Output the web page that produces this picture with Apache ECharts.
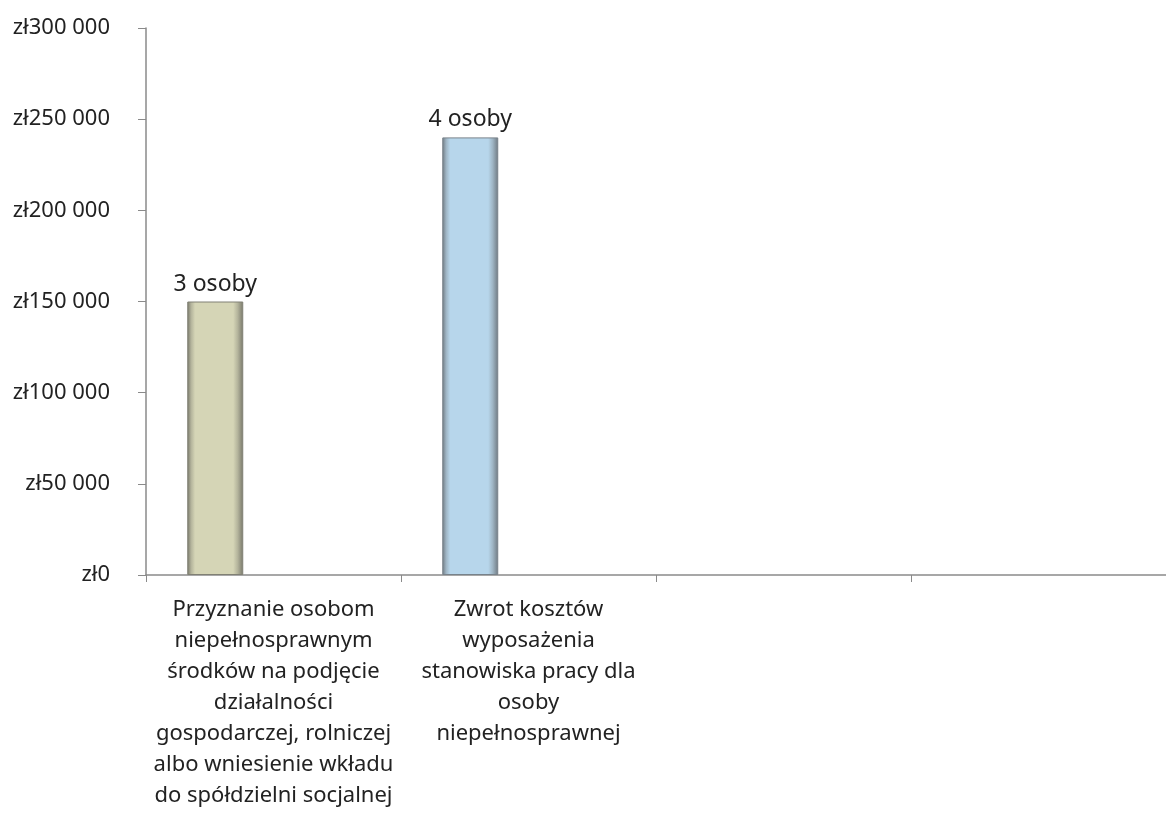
<!DOCTYPE html>
<html>
<head>
<meta charset="utf-8">
<script src="https://cdn.jsdelivr.net/npm/echarts@6/dist/echarts.min.js"></script>
<style>
html,body{margin:0;padding:0;background:#fff;}
#chart{width:1166px;height:814px;}
</style>
</head>
<body>
<div id="chart"></div>
<script>
const categories = [
  "Przyznanie osobom\nniepełnosprawnym\nśrodków na podjęcie\ndziałalności\ngospodarczej, rolniczej\nalbo wniesienie wkładu\ndo spółdzielni socjalnej",
  "Zwrot kosztów\nwyposażenia\nstanowiska pracy dla\nosoby\nniepełnosprawnej",
  "",
  ""
];
const values = [150000, 240000, null, null];
const barLabels = ["3 osoby", "4 osoby", "", ""];
const yTicks = [0, 50000, 100000, 150000, 200000, 250000, 300000];

function grad(edge, inner, mid) {
  return new echarts.graphic.LinearGradient(0, 0, 1, 0, [
    {offset: 0, color: edge},
    {offset: 0.07, color: inner},
    {offset: 0.14, color: mid},
    {offset: 0.82, color: mid},
    {offset: 0.9, color: inner},
    {offset: 1, color: edge}
  ]);
}
const styles = [
  {color: grad('#77776a', '#b4b49c', '#d5d5b6'), borderColor: '#808074', borderWidth: 1},
  {color: grad('#6e7880', '#9fb5c4', '#b7d6eb'), borderColor: '#78828a', borderWidth: 1}
];

function fmt(v) {
  const s = String(v).replace(/\B(?=(\d{3})+(?!\d))/g, ' ');
  return 'zł' + s;
}

const chart = echarts.init(document.getElementById('chart'));
chart.setOption({
  animation: false,
  backgroundColor: '#fff',
  grid: {left: 146, right: -10, top: 28, bottom: 239, containLabel: false},
  xAxis: {
    type: 'category',
    data: categories,
    axisLine: {lineStyle: {color: '#8a8a8a', width: 1.5}},
    axisTick: {show: true, alignWithLabel: false, length: 7, lineStyle: {color: '#8a8a8a'}},
    axisLabel: {
      interval: 0,
      color: '#222',
      fontFamily: 'Noto Sans',
      fontSize: 22,
      lineHeight: 31,
      margin: 19,
      align: 'center'
    }
  },
  yAxis: {
    type: 'value',
    min: 0,
    max: 300000,
    interval: 50000,
    splitLine: {show: false},
    axisLine: {show: true, lineStyle: {color: '#8a8a8a', width: 1.5}},
    axisTick: {show: true, length: 8, lineStyle: {color: '#8a8a8a'}},
    axisLabel: {
      color: '#222',
      fontFamily: 'Noto Sans',
      fontSize: 22,
      margin: 36,
      formatter: function (v) { return yTicks.indexOf(v) >= 0 ? fmt(v) : ''; }
    }
  },
  series: [
    {
      type: 'bar',
      barWidth: 56,
      barGap: '4%',
      data: values.map(function (v, i) {
        return {value: v, itemStyle: styles[i] || {}};
      }),
      label: {
        show: true,
        position: 'top',
        distance: 6,
        color: '#222',
        fontFamily: 'Noto Sans',
        fontSize: 23,
        formatter: function (p) { return barLabels[p.dataIndex]; }
      }
    },
    {type: 'bar', barWidth: 56, barGap: '4%', data: [null, null, null, null]},
    {type: 'bar', barWidth: 56, barGap: '4%', data: [null, null, null, null]}
  ]
});
</script>
</body>
</html>
